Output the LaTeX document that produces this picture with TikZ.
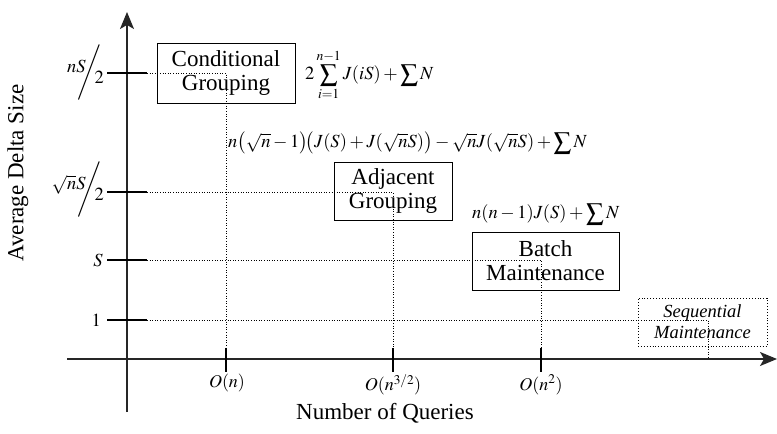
\documentclass[tikz,border=0pt]{standalone}
\usepackage{mathptmx}
\usepackage{fontspec}
\setmainfont{Liberation Serif}
\usetikzlibrary{arrows.meta}
\newcommand{\slfrac}[2]{\raisebox{0.55ex}{$#1$}\kern-0.42em$\Bigg/$\kern-0.38em\raisebox{-0.75ex}{$#2$}}
\newcommand{\bsum}{\mathop{\vcenter{\hbox{\scalebox{1.35}{$\sum$}}}}}
\begin{document}
\begin{tikzpicture}[x=1pt,y=-1pt,
  axis/.style={line width=1.3pt, draw=black!85},
  tickmark/.style={line width=1.2pt},
  guide/.style={dotted, line width=0.6pt},
  box/.style={draw, line width=0.9pt, align=center, inner sep=0pt, font=\fontsize{23}{24}\selectfont},
  dbox/.style={draw, dotted, line width=0.9pt, align=center, inner sep=0pt, font=\fontsize{18.5}{21}\selectfont\itshape},
  lab/.style={inner sep=0pt, font=\fontsize{23}{24}\selectfont},
  mlab/.style={inner sep=0pt, font=\fontsize{18.5}{22}\selectfont},
  olab/.style={inner sep=0pt, font=\fontsize{18}{20}\selectfont}]
\useasboundingbox (0,0) rectangle (777,434);
% axes
\coordinate (yb) at (127,412);
\coordinate (yt) at (127,12);
\coordinate (xl) at (67,359);
\coordinate (xr) at (777,359);
\draw[axis,-{Stealth[length=17pt,width=14pt,inset=4pt]}] (yb) -- (yt);
\draw[axis,-{Stealth[length=17pt,width=14pt,inset=4pt]}] (xl) -- (xr);
% y ticks
\coordinate (ya1) at (107,73);  \coordinate (yb1) at (147,73);
\coordinate (ya2) at (107,192); \coordinate (yb2) at (147,192);
\coordinate (ya3) at (107,260); \coordinate (yb3) at (147,260);
\coordinate (ya4) at (107,320); \coordinate (yb4) at (147,320);
\draw[tickmark] (ya1) -- (yb1); \draw[tickmark] (ya2) -- (yb2);
\draw[tickmark] (ya3) -- (yb3); \draw[tickmark] (ya4) -- (yb4);
% x ticks
\coordinate (xa1) at (226,348); \coordinate (xb1) at (226,372);
\coordinate (xa2) at (393,348); \coordinate (xb2) at (393,372);
\coordinate (xa3) at (541,348); \coordinate (xb3) at (541,372);
\draw[tickmark] (xa1) -- (xb1); \draw[tickmark] (xa2) -- (xb2); \draw[tickmark] (xa3) -- (xb3);
% guide corners
\coordinate (c1) at (226,73);
\coordinate (c2) at (393,192);
\coordinate (c3) at (541,260);
\coordinate (c4) at (708,320);
\coordinate (xa4) at (708,359);
\draw[guide] (yb1) -- (c1) -- (xa1);
\draw[guide] (yb2) -- (c2) -- (xa2);
\draw[guide] (yb3) -- (c3) -- (xa3);
\draw[guide] (yb4) -- (c4) -- (xa4);
% boxes
\node[box, minimum width=138pt, minimum height=60pt] (cg) at (226,73) {Conditional\\Grouping};
\node[box, minimum width=118pt, minimum height=58pt] (ag) at (393,191) {Adjacent\\Grouping};
\node[box, minimum width=147pt, minimum height=58pt] (bm) at (545.5,261) {Batch\\Maintenance};
\node[dbox, minimum width=129pt, minimum height=48pt] (sm) at (702.5,322) {Sequential\\Maintenance};
% y labels
\node[mlab, anchor=east] (l1) at (104,73) {\slfrac{nS}{2}};
\node[mlab, anchor=east] (l2) at (104,190) {\slfrac{\sqrt{n}S}{2}};
\node[mlab, anchor=east] (l3) at (103,260) {$S$};
\node[mlab, anchor=east] (l4) at (101,320) {$1$};
% x labels
\node[olab] (o1) at (227,383) {$O(n)$};
\node[olab] (o2) at (393,385) {$O(n^{3/2})$};
\node[olab] (o3) at (541,385) {$O(n^{2})$};
% axis titles
\node[lab] (xt) at (385,413) {Number of Queries};
\node[lab, rotate=90] (yt2) at (18,173) {Average Delta Size};
% formulas
\node[mlab, anchor=west] (f1) at (305,75) {$2\bsum\limits_{i=1}^{n-1}J(iS)+\bsum N$};
\node[mlab, anchor=west] (f2) at (228,143) {$n\big(\sqrt{n}-1\big)\!\big(J(S)+J(\sqrt{n}S)\big)-\sqrt{n}J(\sqrt{n}S)+\bsum N$};
\node[mlab, anchor=west] (f3) at (472,214) {$n(n-1)J(S)+\bsum N$};
\end{tikzpicture}
\end{document}
